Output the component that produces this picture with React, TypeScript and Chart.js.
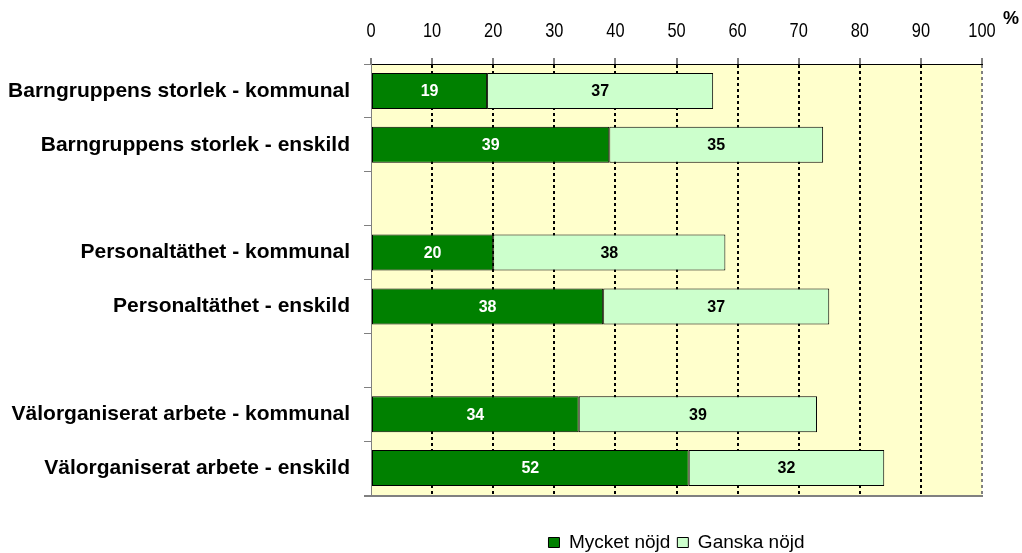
import React, { useEffect, useRef } from "react";
import { Chart, registerables } from "chart.js";

Chart.register(...registerables);

const categories = [
  "Barngruppens storlek - kommunal",
  "Barngruppens storlek - enskild",
  "",
  "Personaltäthet - kommunal",
  "Personaltäthet - enskild",
  "",
  "Välorganiserat arbete - kommunal",
  "Välorganiserat arbete - enskild",
];
const mycketNojd = [19, 39, null, 20, 38, null, 34, 52];
const ganskaNojd = [37, 35, null, 38, 37, null, 39, 32];
const seriesNames = ["Mycket nöjd", "Ganska nöjd"];
const xMin = 0;
const xMax = 100;
const xStep = 10;
const unitLabel = "%";

const FONT = "'Liberation Sans', Arial, Helvetica, sans-serif";

const bgPlugin = {
  id: "bgPlugin",
  beforeDraw(chart: any) {
    const { ctx, chartArea: a } = chart;
    ctx.save();
    ctx.fillStyle = "#FFFFCC";
    ctx.fillRect(a.left, a.top, a.right - a.left, a.bottom - a.top);
    ctx.restore();
  },
  afterDraw(chart: any) {
    const { ctx, chartArea: a } = chart;
    ctx.save();
    ctx.strokeStyle = "#808080";
    ctx.lineWidth = 2;
    ctx.beginPath();
    ctx.moveTo(a.left - 7, a.bottom + 1);
    ctx.lineTo(a.right + 1, a.bottom + 1);
    ctx.stroke();
    // unit label
    ctx.fillStyle = "#000";
    ctx.font = `bold 18px ${FONT}`;
    ctx.textAlign = "left";
    ctx.textBaseline = "middle";
    ctx.fillText(unitLabel, a.right + 21, 19);
    // condensed x tick labels taken from the x scale's own ticks
    const sx = chart.scales.x;
    ctx.font = `21px ${FONT}`;
    ctx.textAlign = "center";
    sx.ticks.forEach((t: any) => {
      const px = sx.getPixelForValue(t.value);
      ctx.save();
      ctx.translate(px, 31);
      ctx.scale(0.78, 1);
      ctx.fillText(String(t.label ?? t.value), 0, 0);
      ctx.restore();
    });
    ctx.restore();
  },
};

const labelPlugin = {
  id: "labelPlugin",
  afterDatasetsDraw(chart: any) {
    const { ctx } = chart;
    ctx.save();
    ctx.font = `bold 16px ${FONT}`;
    ctx.textAlign = "center";
    ctx.textBaseline = "middle";
    chart.data.datasets.forEach((ds: any, i: number) => {
      const meta = chart.getDatasetMeta(i);
      meta.data.forEach((el: any, j: number) => {
        const v = ds.data[j];
        if (v === null || v === undefined) return;
        const p = el.getCenterPoint();
        ctx.fillStyle = i === 0 ? "#FFFFFF" : "#000000";
        ctx.fillText(String(v), p.x, p.y + 1);
      });
    });
    ctx.restore();
  },
};

const legendPlacer = {
  id: "legendPlacer",
  afterLayout(chart: any) {
    const lg = chart.legend;
    if (!lg) return;
    const a = chart.chartArea;
    const h = lg.height;
    lg.top = 526;
    lg.bottom = 526 + h;
    lg.left = a.left;
    lg.right = a.right;
    lg.width = a.right - a.left;
  },
};

export default function App() {
  const ref = useRef<HTMLCanvasElement | null>(null);
  useEffect(() => {
    document.body.style.margin = "0";
    const canvas = ref.current;
    if (!canvas) return;
    const chart = new Chart(canvas, {
      type: "bar",
      data: {
        labels: categories,
        datasets: [
          {
            label: seriesNames[0],
            data: mycketNojd as any,
            backgroundColor: "#008000",
            borderColor: "#000000",
            borderWidth: 1,
            borderSkipped: false,
            barPercentage: 0.67,
            categoryPercentage: 1,
          },
          {
            label: seriesNames[1],
            data: ganskaNojd as any,
            backgroundColor: "#CCFFCC",
            borderColor: "#000000",
            borderWidth: 1,
            borderSkipped: false,
            barPercentage: 0.67,
            categoryPercentage: 1,
          },
        ],
      },
      options: {
        indexAxis: "y",
        responsive: false,
        animation: false,
        layout: { padding: { left: 0, right: 40, top: 0, bottom: 22 } },
        plugins: {
          legend: {
            display: true,
            position: "bottom",
            labels: {
              boxWidth: 11,
              boxHeight: 10,
              padding: 7,
              color: "#000",
              font: { family: FONT, size: 19 },
            },
          },
          tooltip: { enabled: false },
        },
        scales: {
          x: {
            type: "linear",
            position: "top",
            stacked: true,
            min: xMin,
            max: xMax,
            ticks: {
              stepSize: xStep,
              color: "rgba(0,0,0,0)",
              padding: 14,
              font: { family: FONT, size: 19 },
            },
            grid: {
              color: (c: any) =>
                c.tick && c.tick.value === xMax
                  ? "#808080"
                  : c.tick && c.tick.value === xMin
                  ? "rgba(0,0,0,0)"
                  : "#000000",
              lineWidth: 2,
              tickLength: 6,
              tickColor: "#000",
              tickWidth: 1,
              tickBorderDash: [],
            } as any,
            border: { display: true, color: "#000", width: 1, dash: [3, 3] },
            afterFit(scale: any) {
              scale.height = 64;
            },
          },
          y: {
            type: "category",
            stacked: true,
            ticks: {
              color: "#000",
              padding: 14,
              autoSkip: false,
              font: { family: FONT, size: 21, weight: "bold" },
            },
            grid: {
              offset: true,
              drawOnChartArea: false,
              drawTicks: true,
              tickLength: 7,
              color: "#808080",
            },
            border: { display: true, color: "#808080", width: 1 },
            afterFit(scale: any) {
              scale.width = 371;
            },
          },
        },
      } as any,
      plugins: [bgPlugin, labelPlugin, legendPlacer],
    });
    return () => chart.destroy();
  }, []);
  return (
    <div style={{ width: 1022, height: 553, overflow: "hidden" }}>
      <canvas ref={ref} width={1022} height={553} style={{ display: "block" }} />
    </div>
  );
}
